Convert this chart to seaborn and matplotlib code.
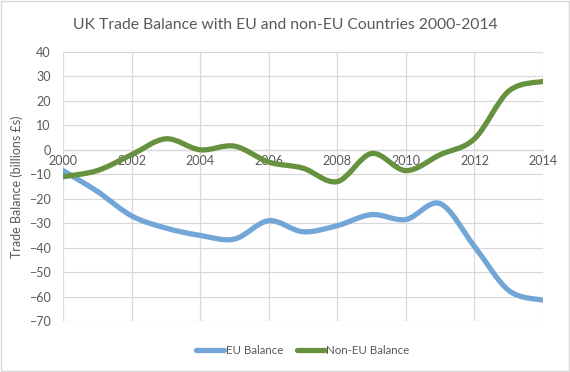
import matplotlib
matplotlib.use("Agg")
import matplotlib.pyplot as plt
import seaborn as sns
import pandas as pd
from matplotlib.path import Path
from matplotlib.patches import PathPatch, Rectangle

# Data (billions £)
years = list(range(2000, 2015))
eu_balance = [-8.5, -17, -27, -32, -35, -36.5, -29, -33.5, -31, -26.5, -28.5, -22, -39.5, -57.5, -61.5]
non_eu_balance = [-11, -8.5, -2, 4.5, 0, 1.5, -5, -7.5, -13, -1.5, -8.5, -2, 4.5, 24, 28]
series_names = ["EU Balance", "Non-EU Balance"]
colors = ["#71a6d6", "#66913f"]

df = pd.DataFrame({
    "Year": years * 2,
    "Balance": eu_balance + non_eu_balance,
    "Series": [series_names[0]] * len(years) + [series_names[1]] * len(years),
})

sns.set_style("white")
plt.rcParams["font.family"] = ["Lato", "DejaVu Sans"]
grey = "#595959"
grid = "#d9d9d9"

fig = plt.figure(figsize=(5.7, 3.72), dpi=100)
ax = fig.add_axes([63 / 570, 1 - 321 / 372, 480 / 570, 269 / 372])

sns.lineplot(data=df, x="Year", y="Balance", hue="Series", palette=colors,
             linewidth=3.8, ax=ax)


def smooth_path(xs, ys):
    # excel-style smoothed line as cubic bezier segments
    pts = list(zip(xs, ys))
    verts = [pts[0]]
    codes = [Path.MOVETO]
    n = len(pts)
    for i in range(n - 1):
        p0 = pts[max(i - 1, 0)]
        p1 = pts[i]
        p2 = pts[i + 1]
        p3 = pts[min(i + 2, n - 1)]
        c1 = (p1[0] + (p2[0] - p0[0]) / 6, p1[1] + (p2[1] - p0[1]) / 6)
        c2 = (p2[0] - (p3[0] - p1[0]) / 6, p2[1] - (p3[1] - p1[1]) / 6)
        verts += [c1, c2, p2]
        codes += [Path.CURVE4] * 3
    return Path(verts, codes)


for line in ax.lines:
    line.set_visible(False)
for vals, c in zip([eu_balance, non_eu_balance], colors):
    ax.add_patch(PathPatch(smooth_path(years, vals), fill=False, edgecolor=c,
                           lw=3.8, capstyle="round", joinstyle="round", zorder=3))

ax.set_xlim(2000, 2014)
ax.set_ylim(-70, 40)
ax.set_xticks(range(2000, 2015, 2))
ax.set_yticks(range(-70, 41, 10))
ax.grid(True, color=grid, linewidth=0.9)
ax.set_axisbelow(True)
for s in ["top", "right", "left"]:
    ax.spines[s].set_visible(False)
ax.spines["bottom"].set_position(("data", 0))
ax.spines["bottom"].set_color(grid)
ax.spines["bottom"].set_linewidth(0.9)
ax.tick_params(axis="both", length=0, labelsize=9, labelcolor=grey)
ax.tick_params(axis="y", pad=9)
ax.tick_params(axis="x", pad=3.5)
ax.set_xlabel("")
ax.set_ylabel("Trade Balance (billions £s)", fontsize=9, color=grey, labelpad=4)

fig.text(0.5, 1 - 25 / 372, "UK Trade Balance with EU and non-EU Countries 2000-2014",
         ha="center", va="center", fontsize=11.3, color=grey)

sns.move_legend(ax, "center", bbox_to_anchor=(0.5, -0.108), ncol=2, frameon=False,
                title=None, fontsize=8.3, handlelength=2.4, handletextpad=0.15,
                columnspacing=1.2, labelcolor=grey)
for h in ax.get_legend().legend_handles:
    h.set_linewidth(3.8)

fig.patches.append(Rectangle((0.002, 0.003), 0.996, 0.994, transform=fig.transFigure,
                             fill=False, edgecolor=grid, linewidth=1))

fig.savefig("out.png", dpi=100)
